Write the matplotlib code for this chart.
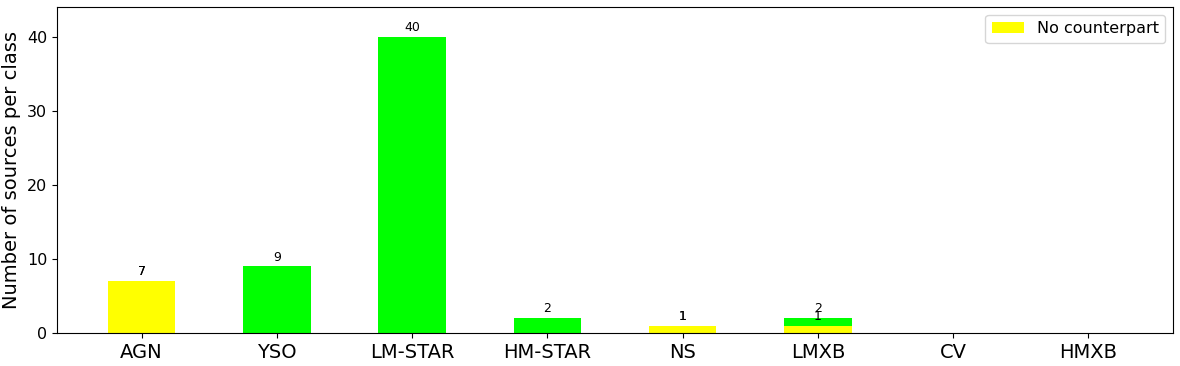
import matplotlib
matplotlib.use('Agg')
import matplotlib.pyplot as plt
import numpy as np

classes = ['AGN', 'YSO', 'LM-STAR', 'HM-STAR', 'NS', 'LMXB', 'CV', 'HMXB']
total = [7, 9, 40, 2, 1, 2, 0, 0]
no_counterpart = [7, 0, 0, 0, 1, 1, 0, 0]

fig, ax = plt.subplots(figsize=(11.8, 3.66), dpi=100)
x = np.arange(len(classes))

b1 = ax.bar(x, total, width=0.5, color='#00ff00')
b2 = ax.bar(x, no_counterpart, width=0.5, color='#ffff00', label='No counterpart')

for bars, vals in [(b1, total), (b2, no_counterpart)]:
    ax.bar_label(bars, labels=[str(v) if v > 0 else '' for v in vals],
                 padding=2, fontsize=9)

ax.set_xticks(x)
ax.set_xticklabels(classes, fontsize=14)
ax.set_yticks([0, 10, 20, 30, 40])
ax.tick_params(axis='y', labelsize=11.5)
ax.set_ylabel('Number of sources per class', fontsize=14)
ax.set_ylim(0, max(total) * 1.1)
ax.legend(fontsize=11.5)

fig.subplots_adjust(left=0.0483, right=0.994, top=0.981, bottom=0.09)
fig.savefig('out.png', dpi=100)
